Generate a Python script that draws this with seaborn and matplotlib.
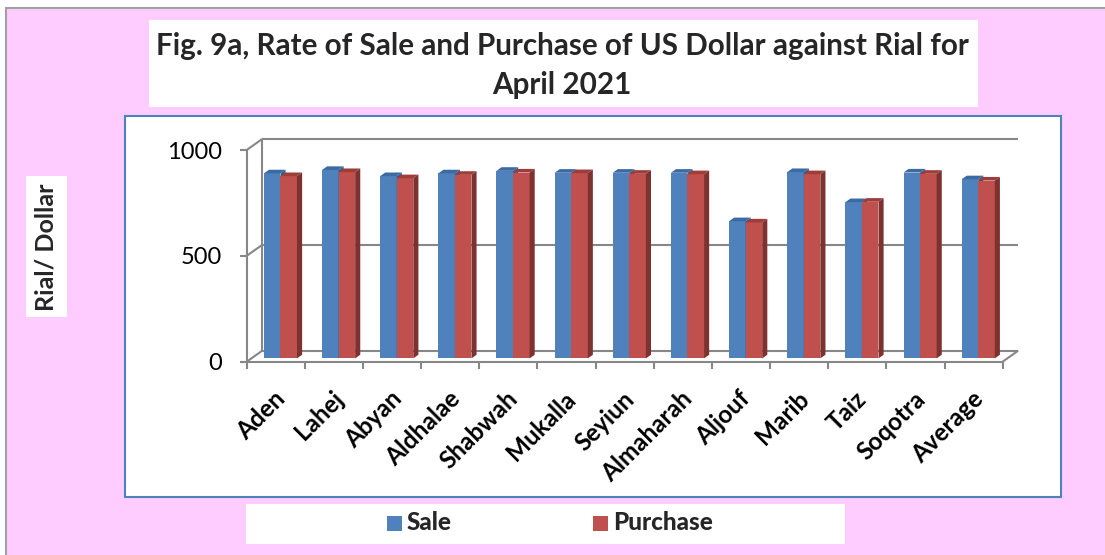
import numpy as np
import pandas as pd
import matplotlib
matplotlib.use('Agg')
import matplotlib.pyplot as plt
import seaborn as sns
from matplotlib.patches import Rectangle, Polygon

# data
regions = ['Aden', 'Lahej', 'Abyan', 'Aldhalae', 'Shabwah', 'Mukalla', 'Seyiun',
           'Almaharah', 'Aljouf', 'Marib', 'Taiz', 'Soqotra', 'Average']
sale = [874, 890, 861, 874, 886, 877, 877, 877, 648, 880, 738, 878, 846]
purchase = [861, 880, 851, 867, 878, 875, 872, 870, 642, 870, 740, 872, 840]
yticks = [0, 500, 1000]

title_1 = 'Fig. 9a, Rate of Sale and Purchase of US Dollar against Rial for'
title_2 = 'April 2021'

BLUE, BLUE_TOP, BLUE_SIDE = '#4F81BD', '#3C6AA3', '#375D8C'
RED, RED_TOP, RED_SIDE = '#C0504D', '#9E3D3A', '#7E3230'
GRID = '#878787'
PINK = '#FFCCFF'

W, H = 1105, 555

sns.set_theme(style='white')
plt.rcParams['font.family'] = ['Lato', 'DejaVu Sans']

fig = plt.figure(figsize=(W / 100, H / 100), dpi=100)
fig.patch.set_facecolor('white')


def box(x0, y0, x1, y1, fc, ec='none', lw=0, z=-5):
    # rectangle in pixel coords (top-left origin)
    fig.patches.append(Rectangle((x0 / W, 1 - y1 / H), (x1 - x0) / W, (y1 - y0) / H,
                                 transform=fig.transFigure, facecolor=fc,
                                 edgecolor=ec, lw=lw, zorder=z))


box(6, 8, W + 5, H + 5, PINK, '#A0A0A0', 1.5)
box(149, 20, 978, 107, 'white')
box(125, 116, 1061, 497, 'white', BLUE, 1.5)
box(26, 176, 67, 317, 'white')
box(246, 504, 845, 544, 'white')

# axes = front plane of the 3D box
x_left, x_right, y_top, y_bot = 246.7, 1017, 139, 361.7
ax = fig.add_axes([x_left / W, 1 - y_bot / H, (x_right - x_left) / W, (y_bot - y_top) / H])
ax.patch.set_alpha(0)

px_x = 58.15      # pixels per category
px_y = 0.2117     # pixels per unit
DX, DY = 15.5 / px_x, 11 / px_y   # floor depth in data units
fb, fd = 0.30, 0.33                # bar front depth, bar thickness

df = pd.DataFrame({
    'Region': regions * 2,
    'Rate': sale + purchase,
    'Series': ['Sale'] * len(regions) + ['Purchase'] * len(regions),
})
sns.barplot(data=df, x='Region', y='Rate', hue='Series',
            palette={'Sale': BLUE, 'Purchase': RED}, width=0.57,
            saturation=1, errorbar=None, legend=False, ax=ax)

n = len(regions)
ax.set_xlim(-0.5, -0.5 + (x_right - x_left) / px_x)
ax.set_ylim(0, (y_bot - y_top) / px_y)

# turn flat bars into 3D columns
for p in list(ax.patches):
    is_sale = np.allclose(p.get_facecolor()[:3], matplotlib.colors.to_rgb(BLUE))
    top_c, side_c = (BLUE_TOP, BLUE_SIDE) if is_sale else (RED_TOP, RED_SIDE)
    z = 3 if is_sale else 4
    x0 = p.get_x() + fb * DX
    y0 = fb * DY
    w, h = p.get_width(), p.get_height()
    p.set_x(x0)
    p.set_y(y0)
    p.set_zorder(z)
    p.set_edgecolor('none')
    ddx, ddy = fd * DX, fd * DY
    ax.add_patch(Polygon([(x0, y0 + h), (x0 + w, y0 + h), (x0 + w + ddx, y0 + h + ddy),
                          (x0 + ddx, y0 + h + ddy)], closed=True, fc=top_c, ec='none', zorder=z + 0.1))
    ax.add_patch(Polygon([(x0 + w, y0), (x0 + w + ddx, y0 + ddy), (x0 + w + ddx, y0 + h + ddy),
                          (x0 + w, y0 + h)], closed=True, fc=side_c, ec='none', zorder=z + 0.1))

# 3D frame: back wall gridlines, left wall, floor
x0f, x1f = -0.5, n - 0.5
line_kw = dict(color=GRID, lw=1.5, zorder=1, clip_on=False, solid_capstyle='butt')
for v in yticks:
    ax.plot([x0f + DX, x1f + DX], [v + DY, v + DY], **line_kw)
    ax.plot([x0f, x0f + DX], [v, v + DY], **line_kw)
ax.plot([x0f + DX, x0f + DX], [DY, yticks[-1] + DY], **line_kw)
ax.plot([x0f, x0f], [0, yticks[-1]], **line_kw)
ax.plot([x0f, x1f], [0, 0], **line_kw)
ax.plot([x1f, x1f + DX], [0, DY], **line_kw)

for s in ax.spines.values():
    s.set_visible(False)
ax.set_xlabel('')
ax.set_ylabel('')

ax.set_yticks(yticks)
ax.set_yticklabels([str(v) for v in yticks])
ax.tick_params(axis='y', left=True, length=5, width=1.5, color=GRID, pad=13,
               labelsize=17, labelcolor='black')

ax.set_xticks(np.arange(n) + 0.1)
ax.set_xticklabels(regions)
ax.set_xticks(np.arange(-0.5, n, 1), minor=True)
ax.tick_params(axis='x', which='major', bottom=False, length=0, pad=24,
               labelsize=17.5, labelcolor='black')
ax.tick_params(axis='x', which='minor', bottom=True, length=5, width=1.5, color=GRID)
plt.setp(ax.get_xticklabels(), rotation=45, ha='right', va='center',
         rotation_mode='anchor', fontweight='bold')

# texts
fig.text(562 / W, 1 - 46 / H, title_1, ha='center', va='center', fontsize=21.3, fontweight='bold')
fig.text(562 / W, 1 - 85 / H, title_2, ha='center', va='center', fontsize=21.3, fontweight='bold')
fig.text(46 / W, 1 - 247 / H, 'Rial/ Dollar', rotation=90, ha='center', va='center',
         fontsize=18, fontweight='bold')

# legend
box(387, 516, 402, 531, BLUE, z=2)
fig.text(407 / W, 1 - 523 / H, 'Sale', ha='left', va='center', fontsize=17.5, fontweight=900)
box(593, 516, 608, 531, RED, z=2)
fig.text(613 / W, 1 - 523 / H, 'Purchase', ha='left', va='center', fontsize=17.5, fontweight=900)

fig.savefig('out.png', dpi=100)
